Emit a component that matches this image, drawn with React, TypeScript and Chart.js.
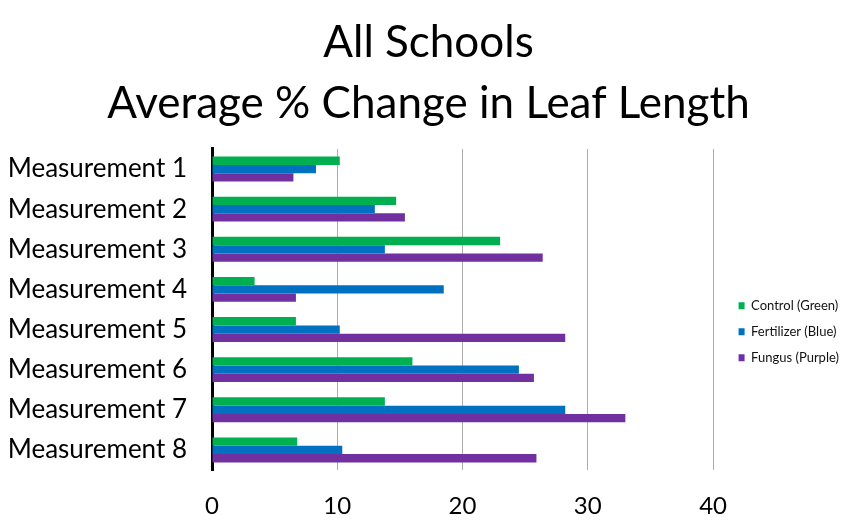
import React, { useEffect, useRef } from "react";
import { Chart, registerables } from "chart.js";

Chart.register(...registerables);

const categories = [
  "Measurement 1",
  "Measurement 2",
  "Measurement 3",
  "Measurement 4",
  "Measurement 5",
  "Measurement 6",
  "Measurement 7",
  "Measurement 8",
];
const controlValues = [10.2, 14.7, 23.0, 3.4, 6.7, 16.0, 13.8, 6.8];
const fertilizerValues = [8.3, 13.0, 13.8, 18.5, 10.2, 24.5, 28.2, 10.4];
const fungusValues = [6.5, 15.4, 26.4, 6.7, 28.2, 25.7, 33.0, 25.9];
const seriesNames = ["Control (Green)", "Fertilizer (Blue)", "Fungus (Purple)"];
const titleLines = ["All Schools", "Average % Change in Leaf Length"];

const FONT = "Lato, 'Open Sans', sans-serif";

export default function App() {
  const canvasRef = useRef<HTMLCanvasElement | null>(null);

  useEffect(() => {
    if (!canvasRef.current) return;
    const chart = new Chart(canvasRef.current, {
      type: "bar",
      data: {
        labels: categories,
        datasets: [
          { label: seriesNames[0], data: controlValues, backgroundColor: "#00B050" },
          { label: seriesNames[1], data: fertilizerValues, backgroundColor: "#0070C0" },
          { label: seriesNames[2], data: fungusValues, backgroundColor: "#7030A0" },
        ],
      },
      options: {
        indexAxis: "y",
        animation: false,
        responsive: false,
        maintainAspectRatio: false,
        layout: { padding: { left: 0, right: 8, top: 0, bottom: 0 } },
        datasets: {
          bar: { categoryPercentage: 0.62, barPercentage: 1.0 },
        },
        plugins: {
          title: {
            display: true,
            text: titleLines,
            color: "#000",
            font: { family: FONT, size: 44, weight: "normal", lineHeight: 1.386 },
            padding: { top: 4, bottom: 15 },
          },
          legend: {
            position: "right",
            title: { display: true, text: " ", padding: 59, font: { size: 12 } },
            labels: {
              color: "#111",
              font: { family: FONT, size: 13 },
              boxWidth: 6,
              boxHeight: 7,
              padding: 13,
            },
          },
          tooltip: { enabled: false },
        },
        scales: {
          x: {
            type: "linear",
            min: 0,
            max: 41,
            ticks: {
              stepSize: 10,
              includeBounds: false,
              color: "#000",
              font: { family: FONT, size: 24 },
              padding: 22,
            },
            grid: { color: "#ADADAD", lineWidth: 1, drawTicks: false },
            border: { display: false },
            afterFit: (scale: any) => {
              scale.height = 53;
            },
          },
          y: {
            type: "category",
            ticks: {
              color: "#000",
              font: { family: FONT, size: 26 },
              padding: 25,
            },
            grid: { display: false, drawTicks: false },
            border: { display: true, color: "#000", width: 3 },
            afterFit: (scale: any) => {
              scale.width = 204;
            },
          },
        },
      },
    });
    return () => chart.destroy();
  }, []);

  return (
    <div style={{ width: 849, height: 515 }}>
      <canvas ref={canvasRef} width={849} height={515} style={{ display: "block" }} />
    </div>
  );
}
